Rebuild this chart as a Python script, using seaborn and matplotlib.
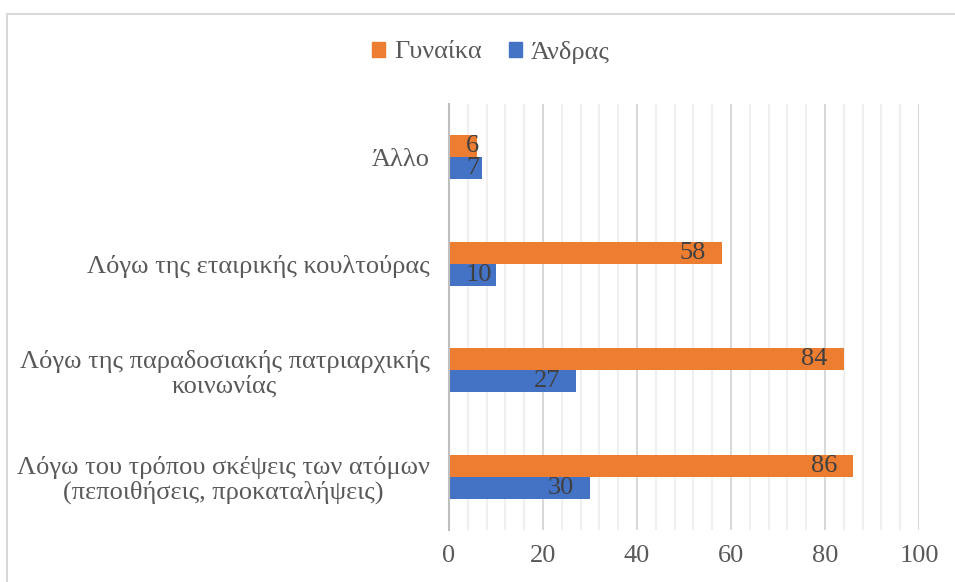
import matplotlib
matplotlib.use("Agg")
import matplotlib.pyplot as plt
from matplotlib.patches import Rectangle
from matplotlib.ticker import MultipleLocator, FixedLocator
import seaborn as sns
import pandas as pd

categories = [
    "Άλλο",
    "Λόγω της εταιρικής κουλτούρας",
    "Λόγω της παραδοσιακής πατριαρχικής\nκοινωνίας",
    "Λόγω του τρόπου σκέψεις των ατόμων\n(πεποιθήσεις, προκαταλήψεις)",
]
series_names = ["Γυναίκα", "Άνδρας"]
women = [6, 58, 84, 86]
men = [7, 10, 27, 30]
x_ticks = [0, 20, 40, 60, 80, 100]

colors = {"Γυναίκα": "#ED7D31", "Άνδρας": "#4472C4"}
text_color = "#595959"
fs = 19

df = pd.DataFrame({
    "category": categories * 2,
    "series": [series_names[0]] * len(categories) + [series_names[1]] * len(categories),
    "value": women + men,
})

sns.set_theme(style="white")
plt.rcParams["font.family"] = ["Liberation Serif", "DejaVu Serif"]

fig = plt.figure(figsize=(9.55, 5.82), dpi=100)
ax = fig.add_axes([449 / 955, 52 / 582, 470 / 955, 426 / 582])

sns.barplot(
    data=df, y="category", x="value", hue="series",
    order=categories, hue_order=series_names, palette=colors,
    orient="h", width=0.41, gap=0, saturation=1, ax=ax, legend=False,
    edgecolor="none",
)

ax.set_xlim(0, 100)
ax.set_ylim(len(categories) - 0.5, -0.5)
ax.set_xlabel("")
ax.set_ylabel("")

# vertical gridlines: major every 20, minor every 4
ax.xaxis.set_major_locator(FixedLocator(x_ticks))
ax.xaxis.set_minor_locator(MultipleLocator(4))
ax.grid(axis="x", which="major", color="#d9d9d9", lw=1.5, zorder=0)
ax.grid(axis="x", which="minor", color="#f0f0f0", lw=1.5, zorder=0)
ax.set_axisbelow(True)

for side in ["top", "right", "bottom"]:
    ax.spines[side].set_visible(False)
ax.spines["left"].set_color("#bfbfbf")
ax.spines["left"].set_linewidth(1.5)

ax.tick_params(axis="x", which="both", length=0, pad=11, labelsize=fs, labelcolor=text_color)
ax.tick_params(axis="y", which="major", length=0, pad=14, labelsize=fs, labelcolor=text_color)
ax.yaxis.set_minor_locator(FixedLocator([i - 0.5 for i in range(len(categories) + 1)]))
ax.tick_params(axis="y", which="minor", length=8, width=1.5, color="#bfbfbf", direction="out")
for lbl in ax.get_yticklabels():
    lbl.set_multialignment("center")
    lbl.set_linespacing(1.1)

# value labels at the inner end of each bar; short bars keep the label
# pinned a fixed margin away from the axis origin
renderer = fig.canvas.get_renderer()
units_per_px = (ax.get_xlim()[1] - ax.get_xlim()[0]) / ax.get_window_extent(renderer).width
end_margin = 3.4
start_margin = 3.6
for container in ax.containers:
    for patch in container:
        w = patch.get_width()
        yc = patch.get_y() + patch.get_height() / 2
        t = ax.text(w - end_margin, yc, f"{w:g}", ha="right", va="center",
                    fontsize=fs, color="#404040", zorder=5)
        tw = t.get_window_extent(renderer).width * units_per_px
        t.set_x(max(w - end_margin, start_margin + tw))

# legend at the top
handles = [Rectangle((0, 0), 1, 1, color=colors[s]) for s in series_names]
fig.legend(handles, series_names, loc="center", bbox_to_anchor=(491 / 955, 1 - 52 / 582),
           ncol=2, frameon=False, fontsize=fs, labelcolor=text_color,
           handlelength=0.5, handleheight=0.5, handletextpad=0.35, columnspacing=1.0)

# chart border
fig.patches.append(Rectangle((7 / 955, -0.05), 1.1, 1 - 14 / 582 + 0.05,
                             transform=fig.transFigure, fill=False,
                             edgecolor="#d9d9d9", lw=1.5, zorder=10))

fig.savefig("out.png", dpi=100)
